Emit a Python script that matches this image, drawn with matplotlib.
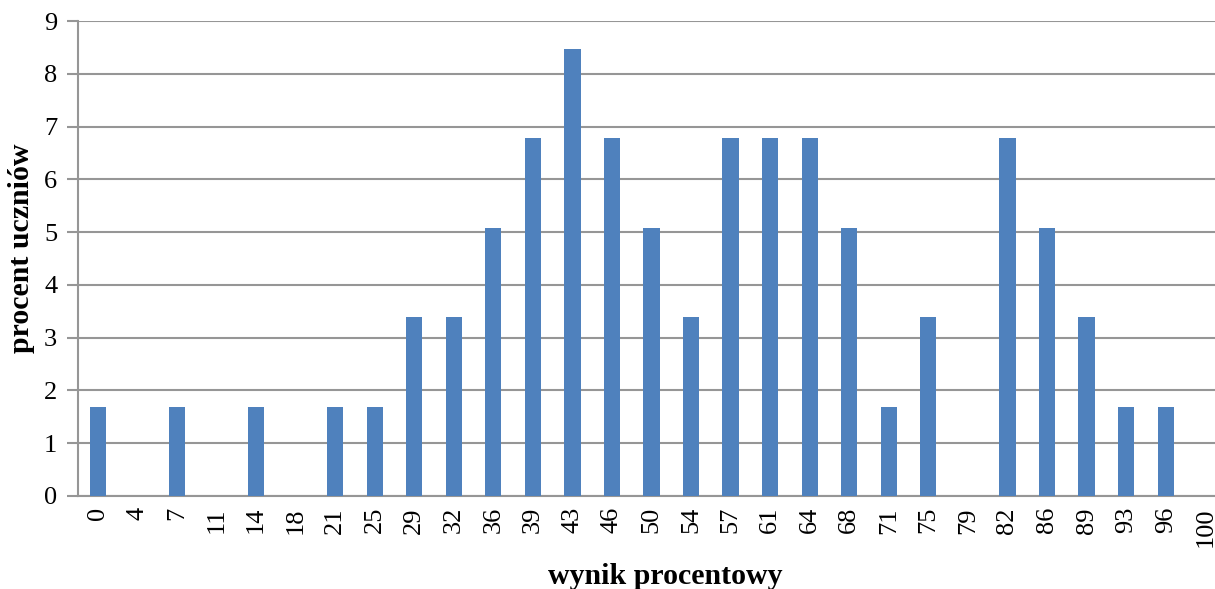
import matplotlib.pyplot as plt
import numpy as np

# wynik procentowy -> liczba uczniow (59 uczniow)
wyniki = ['0', '4', '7', '11', '14', '18', '21', '25', '29', '32', '36', '39', '43', '46',
          '50', '54', '57', '61', '64', '68', '71', '75', '79', '82', '86', '89', '93', '96', '100']
liczba = [1, 0, 1, 0, 1, 0, 1, 1, 2, 2, 3, 4, 5, 4, 3, 2, 4, 4, 4, 3, 1, 2, 0, 4, 3, 2, 1, 1, 0]
procent = [c / 59 * 100 for c in liczba]

plt.rcParams['font.family'] = ['Liberation Serif', 'DejaVu Serif']

fig = plt.figure(figsize=(12.15, 5.89), dpi=100)
W, H = 1215, 589
ax = fig.add_axes([78 / W, (H - 496) / H, (1225 - 78) / W, (496 - 21) / H])

x = np.arange(len(wyniki))
ax.bar(x, procent, width=0.41, color='#4F81BD', zorder=3)

ax.set_xlim(-0.5, len(wyniki) - 0.5)
ax.set_ylim(0, 9)
ax.set_yticks(range(0, 10))
ax.set_xticks(x)
ax.set_xticklabels(wyniki, rotation=90, fontsize=19)
ax.tick_params(axis='y', labelsize=19, length=8, color='#969696', width=1.5, pad=7)
ax.tick_params(axis='x', length=0, pad=8)

ax.grid(axis='y', color='#969696', linewidth=1.5, zorder=0)
for s in ['top', 'right']:
    ax.spines[s].set_visible(False)
for s in ['left', 'bottom']:
    ax.spines[s].set_color('#969696')
    ax.spines[s].set_linewidth(1.5)

fig.text(22 / W, 1 - 248 / H, 'procent uczniów', fontsize=21.5, fontweight='bold',
         rotation=90, ha='center', va='center')
fig.text(665 / W, 1 - 577 / H, 'wynik procentowy', fontsize=21.5, fontweight='bold',
         ha='center', va='center')

fig.savefig('out.png', dpi=100)
